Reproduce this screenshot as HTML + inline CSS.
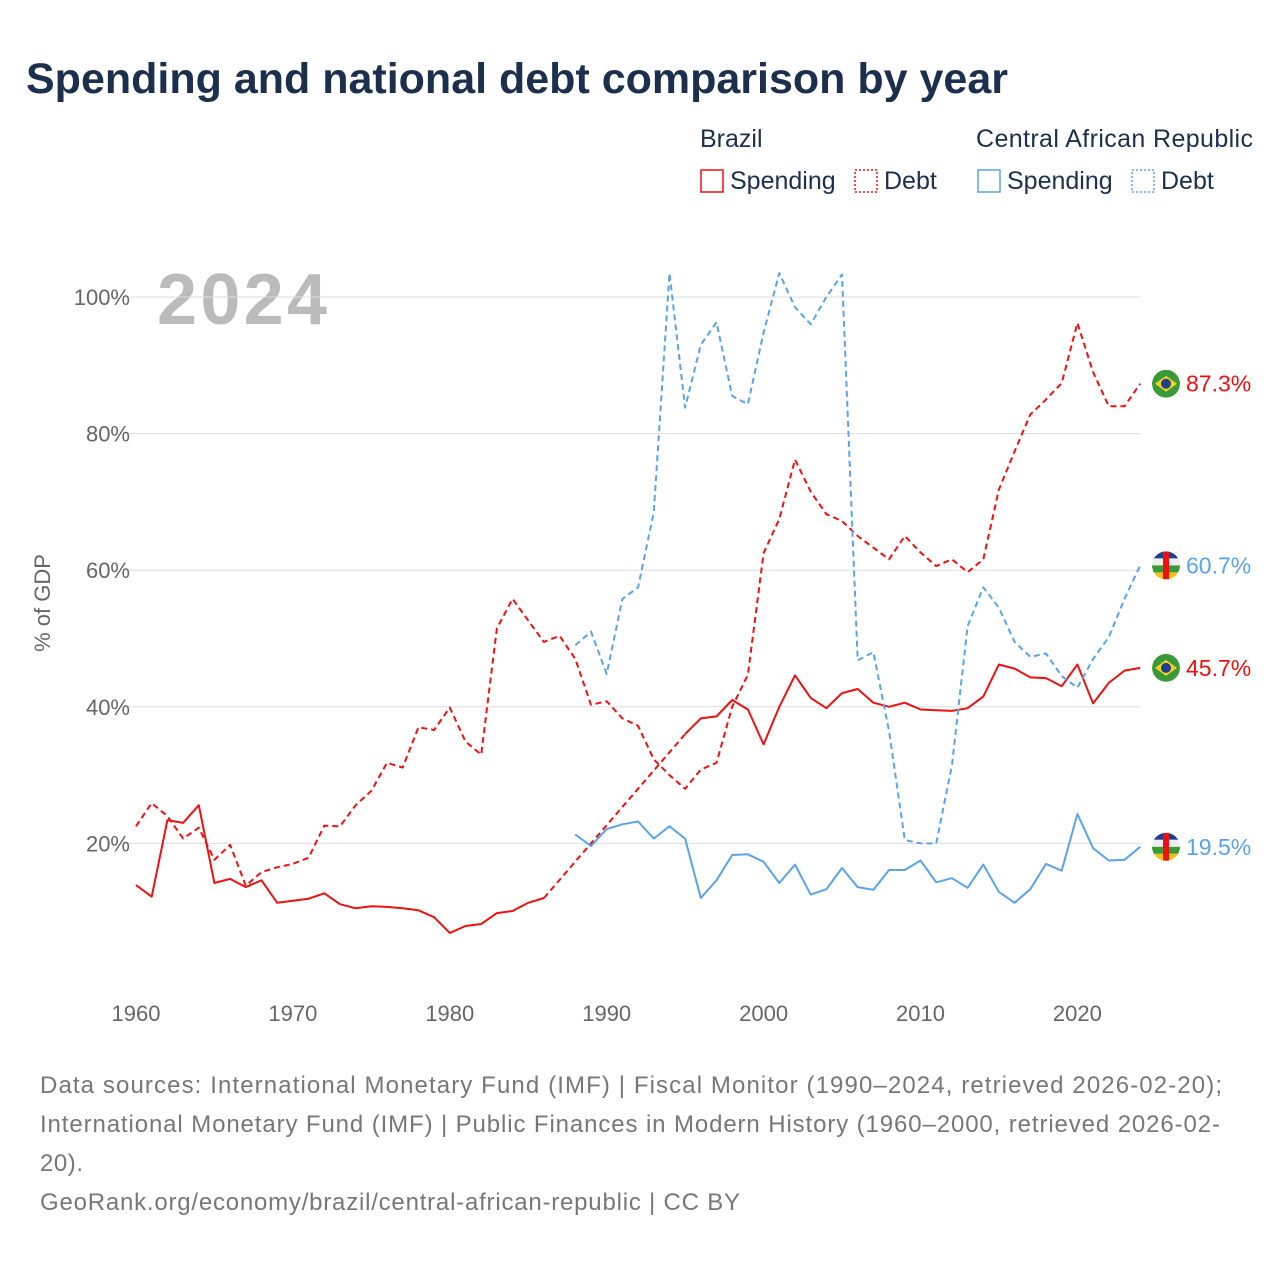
<!DOCTYPE html>
<html><head><meta charset="utf-8">
<style>
body{margin:0;background:#fff;width:1280px;height:1280px;overflow:hidden;font-family:"Liberation Sans",sans-serif}
svg text{font-family:"Liberation Sans",sans-serif}
</style></head><body>
<svg id="chart" width="1280" height="1280">
<defs><clipPath id="cc"><circle cx="0" cy="0" r="14"/></clipPath></defs>
<text x="26" y="93" font-size="43" font-weight="bold" fill="#1c2f4d">Spending and national debt comparison by year</text>
<g font-size="25" fill="#1c2f4d">
<text x="700" y="147" fill="#1c2f4d">Brazil</text>
<text x="976" y="147" fill="#1c2f4d" textLength="277">Central African Republic</text>
<g><rect x="701" y="170" width="22" height="22" fill="none" stroke="#ee1111" stroke-width="1.5"/><text x="730" y="189" fill="#1c2f4d">Spending</text></g>
<g><rect x="855" y="170" width="22" height="22" fill="none" stroke="#ee1111" stroke-width="1.5" stroke-dasharray="2 2"/><text x="884" y="189" fill="#1c2f4d">Debt</text></g>
<g><rect x="978" y="170" width="22" height="22" fill="none" stroke="#5ba3e8" stroke-width="1.5"/><text x="1007" y="189" fill="#1c2f4d">Spending</text></g>
<g><rect x="1132" y="170" width="22" height="22" fill="none" stroke="#5ba3e8" stroke-width="1.5" stroke-dasharray="2 2"/><text x="1161" y="189" fill="#1c2f4d">Debt</text></g>
</g>
<text x="157" y="324" font-size="72" font-weight="bold" fill="#bbbbbb" textLength="170">2024</text>
<text transform="translate(50,603) rotate(-90)" text-anchor="middle" font-size="22" fill="#666">% of GDP</text>
<g id="grid"></g><g id="xt"></g><g id="lines"></g><g id="ends"></g>
<g font-size="24" fill="#777">
<text x="40" y="1093" textLength="1182">Data sources: International Monetary Fund (IMF) | Fiscal Monitor (1990–2024, retrieved 2026-02-20);</text>
<text x="40" y="1132" textLength="1180">International Monetary Fund (IMF) | Public Finances in Modern History (1960–2000, retrieved 2026-02-</text>
<text x="40" y="1171" textLength="43">20).</text>
<text x="40" y="1210" textLength="700">GeoRank.org/economy/brazil/central-african-republic | CC BY</text>
</g>
</svg>
<script>
const yTicks=[20,40,60,80,100];
const xTicks=[1960,1970,1980,1990,2000,2010,2020];
const brSpendStart=1960;
const brSpend=[13.9,12.2,23.4,23,25.6,14.2,14.8,13.6,14.6,11.3,11.6,11.9,12.7,11.1,10.5,10.8,10.7,10.5,10.2,9.2,6.9,7.9,8.2,9.8,10.1,11.3,12.0,null,null,null,null,null,null,null,null,36,38.3,38.6,41,39.6,34.5,40,44.6,41.3,39.8,42,42.6,40.6,40,40.6,39.6,39.5,39.4,39.8,41.5,46.2,45.6,44.3,44.2,43,46.2,40.5,43.5,45.3,45.7];
const brDebtStart=1960;
const brDebt=[22.5,25.9,24,20.7,22.3,17.6,19.8,13.8,15.8,16.5,17,17.9,22.6,22.5,25.6,27.7,31.8,31.1,37,36.6,39.9,34.9,33,51.5,55.8,52.6,49.5,50.4,47,40.3,40.8,38.3,37.2,32.3,30,28,30.8,31.8,40,44.7,62.5,67.5,76.2,71.5,68.2,67.2,65,63.3,61.6,65,62.6,60.6,61.6,59.7,61.6,71.8,77.4,82.8,85,87.4,96.2,89,84,84,87.3];
const carSpendStart=1988;
const carSpend=[21.3,19.6,22.1,22.8,23.2,20.7,22.5,20.7,12,14.6,18.3,18.4,17.3,14.2,16.9,12.5,13.3,16.4,13.6,13.2,16.1,16.1,17.5,14.3,14.9,13.5,16.9,12.9,11.3,13.3,17,16,24.3,19.3,17.5,17.6,19.5];
const carDebtStart=1988;
const carDebt=[49,51,44.8,55.8,57.5,68.5,103.5,83.8,93,96.3,85.5,84.3,94.8,103.5,98.5,96,100,103.3,46.8,48,36.4,20.5,20,20,31.4,51.8,57.5,54.5,49.5,47.3,47.8,44.5,42.8,47,50.2,55.8,60.7];
const X=y=>136+(y-1960)*15.69;
const Y=v=>980-v*6.83;
const NS="http://www.w3.org/2000/svg";
function mk(tag,attrs,parent){const e=document.createElementNS(NS,tag);for(const k in attrs)e.setAttribute(k,attrs[k]);parent.appendChild(e);return e;}
const grid=document.getElementById('grid');
yTicks.forEach(v=>{
 const l=mk('line',{x1:125,x2:1141,y1:Y(v),y2:Y(v),stroke:'#ddd','stroke-width':1},grid);
 
 
 const t=mk('text',{x:130,y:Y(v)+8,'text-anchor':'end','font-size':22,fill:'#666'},grid);
 t.textContent=v+'%';
 
 
});
const xt=document.getElementById('xt');
xTicks.forEach(v=>{
 const t=mk('text',{x:X(v),y:1021,'text-anchor':'middle','font-size':22,fill:'#666'},xt);
 t.textContent=v;
 
 
});
const lines=document.getElementById('lines');
function series(data,start,color,dashed,name){
 let segs=[],cur=[],gapLine=[];let last=null;
 data.forEach((v,i)=>{const yr=start+i;
  if(v==null){if(cur.length){segs.push(cur);cur=[];}return;}
  if(cur.length===0&&last&&last.i<i-1){gapLine.push([last.p,[X(yr),Y(v)]]);}
  cur.push([X(yr),Y(v)]);last={i:i,p:[X(yr),Y(v)]};});
 if(cur.length)segs.push(cur);
 segs.forEach(s=>{
  const p=mk('path',{d:'M'+s.map(q=>q[0].toFixed(1)+','+q[1].toFixed(1)).join('L'),fill:'none',stroke:color,'stroke-width':2,'stroke-dasharray':dashed?'6 4':'none','stroke-linejoin':'round'},lines);
  
  
 });
 gapLine.forEach(g=>{
  const p=mk('path',{d:'M'+g[0].join(',')+'L'+g[1].join(','),fill:'none',stroke:color,'stroke-width':2,'stroke-dasharray':'6 4'},lines);
  
  
 });
}
series(brSpend,brSpendStart,'#ee1111',false,'line-brazil-spending');
series(brDebt,brDebtStart,'#ee1111',true,'line-brazil-debt');
series(carSpend,carSpendStart,'#5ba3e8',false,'line-car-spending');
series(carDebt,carDebtStart,'#5ba3e8',true,'line-car-debt');
const ends=document.getElementById('ends');
function endLabel(v,color,flag,name){
 const g=mk('g',{},ends);
 
 
 const cx=1166,cy=Y(v);
 const f=mk('g',{transform:`translate(${cx},${cy})`,'clip-path':'url(#cc)'},g);
 if(flag==='br'){
  mk('circle',{cx:0,cy:0,r:14,fill:'#3a9a3a'},f);
  mk('polygon',{points:'-11,0 0,-8 11,0 0,8',fill:'#f2d21b'},f);
  mk('circle',{cx:0,cy:0,r:5,fill:'#1f3f8f'},f);
 }else{
  mk('rect',{x:-14,y:-14,width:28,height:7,fill:'#1f3f8f'},f);
  mk('rect',{x:-14,y:-7,width:28,height:7,fill:'#eee'},f);
  mk('rect',{x:-14,y:0,width:28,height:7,fill:'#3a9a3a'},f);
  mk('rect',{x:-14,y:7,width:28,height:7,fill:'#f2c21b'},f);
  mk('rect',{x:-3,y:-14,width:6,height:28,fill:'#ee1111'},f);
 }
 const t=mk('text',{x:1186,y:cy+8,'font-size':23,fill:color},g);
 t.textContent=v.toFixed(1)+'%';
}
endLabel(brDebt[brDebt.length-1],'#ee1111','br','end-label-brazil-debt');
endLabel(carDebt[carDebt.length-1],'#5ba3e8','car','end-label-car-debt');
endLabel(brSpend[brSpend.length-1],'#ee1111','br','end-label-brazil-spending');
endLabel(carSpend[carSpend.length-1],'#5ba3e8','car','end-label-car-spending');
</script>
</body></html>
